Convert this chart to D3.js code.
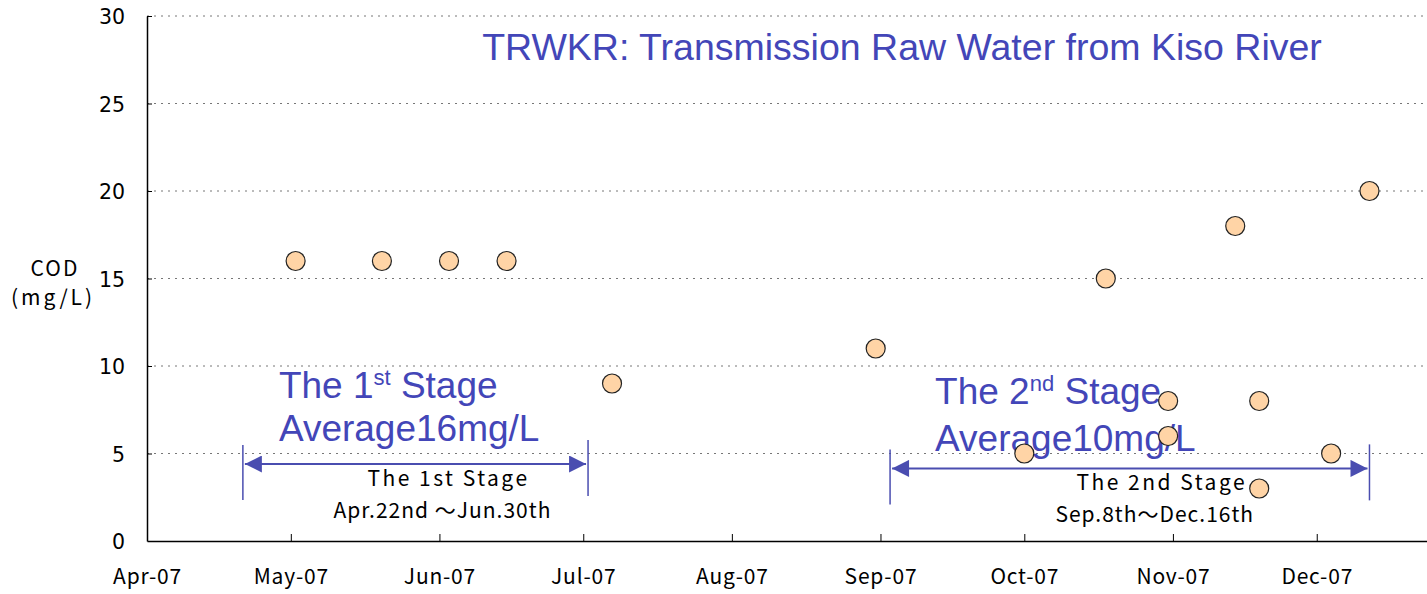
<!DOCTYPE html>
<html>
<head>
<meta charset="utf-8">
<script src="https://cdn.jsdelivr.net/npm/d3@7"></script>
<style>
  body { margin: 0; background: #fff; }
  .tick text { font-family: "Noto Sans CJK JP", sans-serif; fill: #000; }
</style>
</head>
<body>
<script>
// COD measurements (date, mg/L)
var sampleDates = ["2007-05-02", "2007-05-20", "2007-06-03", "2007-06-15", "2007-07-07",
                   "2007-08-31", "2007-10-01", "2007-10-18", "2007-10-31", "2007-10-31",
                   "2007-11-14", "2007-11-19", "2007-11-19", "2007-12-04", "2007-12-12"];
var codValues = [16, 16, 16, 16, 9, 11, 5, 15, 6, 8, 18, 3, 8, 5, 20];

var monthTicks = ["2007-04-01", "2007-05-01", "2007-06-01", "2007-07-01", "2007-08-01",
                  "2007-09-01", "2007-10-01", "2007-11-01", "2007-12-01"];
var yTicks = [0, 5, 10, 15, 20, 25, 30];

// stage annotations
var stageNames = ["The 1st Stage", "The 2nd Stage"];
var stageRanges = ["Apr.22nd \uFF5EJun.30th", "Sep.8th\uFF5EDec.16th"];
var stageStart = ["2007-04-21", "2007-09-03"];
var stageEnd = ["2007-07-02", "2007-12-12"];
var stageArrowY = [4.4, 4.15];
var stageAvg = ["Average16mg/L", "Average10mg/L"];
var stageOrd = ["1", "2"];
var stageSup = ["st", "nd"];

var parse = d3.timeParse("%Y-%m-%d");
var data = sampleDates.map(function(d, i) { return {date: parse(d), value: codValues[i]}; });

var W = 1427, H = 594;
var margin = {top: 16, right: 0, bottom: 53, left: 147};

var x = d3.scaleTime()
    .domain([parse("2007-04-01"), parse("2007-12-24")])
    .range([margin.left, W - margin.right]);
var y = d3.scaleLinear().domain([0, 30]).range([H - margin.bottom, margin.top]);

var svg = d3.select("body").append("svg")
    .attr("width", W)
    .attr("height", H);

var blue = "#4346b8";
var arrowBlue = "#4a4db0";

svg.append("defs").append("marker")
    .attr("id", "arr")
    .attr("viewBox", "0 0 10 10")
    .attr("refX", 10).attr("refY", 5)
    .attr("markerWidth", 10).attr("markerHeight", 8.5)
    .attr("markerUnits", "strokeWidth")
    .attr("orient", "auto-start-reverse")
    .append("path")
    .attr("d", "M0,0L10,5L0,10Z")
    .attr("fill", arrowBlue);

// gridlines
svg.append("g")
    .selectAll("line")
    .data(yTicks.filter(function(d) { return d > 0; }))
    .enter().append("line")
    .attr("x1", margin.left).attr("x2", W)
    .attr("y1", function(d) { return y(d); })
    .attr("y2", function(d) { return y(d); })
    .attr("stroke", "#777")
    .attr("stroke-width", 1)
    .attr("stroke-dasharray", "2,5");

// y axis
var yAxis = svg.append("g")
    .attr("transform", "translate(" + margin.left + ",0)")
    .call(d3.axisLeft(y).tickValues(yTicks).tickSizeInner(-5).tickSizeOuter(0).tickPadding(22));
yAxis.select(".domain").attr("stroke", "#000").attr("stroke-width", 1.5);
yAxis.selectAll(".tick line").attr("stroke", "#000");
yAxis.selectAll(".tick text")
    .style("font-family", "'DejaVu Sans', sans-serif")
    .style("font-size", "20.5px")
    .attr("dy", "0.38em");
yAxis.selectAll(".tick").filter(function(d) { return d === 0; }).select("line").remove();

// x axis
var xAxis = svg.append("g")
    .attr("transform", "translate(0," + y(0) + ")")
    .call(d3.axisBottom(x)
        .tickValues(monthTicks.map(parse))
        .tickFormat(d3.timeFormat("%b-%y"))
        .tickSizeInner(-7).tickSizeOuter(0).tickPadding(28));
xAxis.select(".domain").attr("stroke", "#000").attr("stroke-width", 1.5);
xAxis.selectAll(".tick line").attr("stroke", "#000");
xAxis.selectAll(".tick text").style("font-size", "21px").style("letter-spacing", "0.8px");

// y axis label
svg.append("text")
    .attr("x", 55).attr("y", 276)
    .attr("text-anchor", "middle")
    .style("font-family", "'Noto Sans CJK JP', sans-serif")
    .style("font-size", "21px")
    .style("letter-spacing", "2px")
    .text("COD");
svg.append("text")
    .attr("x", 53).attr("y", 305)
    .attr("text-anchor", "middle")
    .style("font-family", "'Noto Sans CJK JP', sans-serif")
    .style("font-size", "21px")
    .style("letter-spacing", "3px")
    .text("(mg/L)");

// title
svg.append("text")
    .attr("x", 902).attr("y", 60)
    .attr("text-anchor", "middle")
    .style("font-family", "Arial, 'Liberation Sans', sans-serif")
    .style("font-size", "37.5px")
    .attr("fill", blue)
    .text("TRWKR: Transmission Raw Water from Kiso River");

// stage arrows
var stages = stageNames.map(function(n, i) {
    return {name: n, range: stageRanges[i], s: parse(stageStart[i]), e: parse(stageEnd[i]),
            ay: stageArrowY[i], avg: stageAvg[i], ord: stageOrd[i], sup: stageSup[i]};
});

var sg = svg.append("g").selectAll("g").data(stages).enter().append("g");

sg.append("line")
    .attr("x1", function(d) { return x(d.s); }).attr("x2", function(d) { return x(d.s); })
    .attr("y1", function(d) { return y(d.ay) - 19; }).attr("y2", function(d) { return y(d.ay) + 36; })
    .attr("stroke", arrowBlue).attr("stroke-width", 1.5);
sg.append("line")
    .attr("x1", function(d) { return x(d.e); }).attr("x2", function(d) { return x(d.e); })
    .attr("y1", function(d) { return y(d.ay) - 24; }).attr("y2", function(d) { return y(d.ay) + 32; })
    .attr("stroke", arrowBlue).attr("stroke-width", 1.5);
sg.append("line")
    .attr("x1", function(d) { return x(d.s) + 2; }).attr("x2", function(d) { return x(d.e) - 2; })
    .attr("y1", function(d) { return y(d.ay); }).attr("y2", function(d) { return y(d.ay); })
    .attr("stroke", arrowBlue).attr("stroke-width", 2)
    .attr("marker-start", "url(#arr)")
    .attr("marker-end", "url(#arr)");

// data points
svg.append("g")
    .selectAll("circle")
    .data(data)
    .enter().append("circle")
    .attr("cx", function(d) { return x(d.date); })
    .attr("cy", function(d) { return y(d.value); })
    .attr("r", 9.5)
    .attr("fill", "#ffd4a6")
    .attr("stroke", "#222")
    .attr("stroke-width", 1.2);

// stage captions (black)
sg.append("text")
    .attr("x", function(d) { return (x(d.s) + x(d.e)) / 2 + (d.ord === "1" ? 33 : 32); })
    .attr("y", function(d) { return y(d.ay) + 22; })
    .attr("text-anchor", "middle")
    .style("font-family", "'Noto Sans CJK JP', sans-serif")
    .style("font-size", "21px")
    .style("letter-spacing", "2.5px")
    .text(function(d) { return d.name; });
sg.append("text")
    .attr("x", function(d) { return (x(d.s) + x(d.e)) / 2 + (d.ord === "1" ? 27 : 25); })
    .attr("y", function(d) { return y(d.ay) + 54; })
    .attr("text-anchor", "middle")
    .style("font-family", "'Noto Sans CJK JP', sans-serif")
    .style("font-size", "21px")
    .style("letter-spacing", "1px")
    .text(function(d) { return d.range; });

// stage averages (blue)
var bt = sg.append("text")
    .attr("x", function(d) { return x(d.s) + (d.ord === "1" ? 36 : 45); })
    .attr("y", function(d) { return y(d.ay) - (d.ord === "1" ? 66 : 64); })
    .style("font-family", "Arial, 'Liberation Sans', sans-serif")
    .style("font-size", "37px")
    .attr("fill", blue);
bt.append("tspan").text(function(d) { return "The " + d.ord; });
bt.append("tspan").attr("dy", -13).style("font-size", "22px").text(function(d) { return d.sup; });
bt.append("tspan").attr("dy", 13).text(" Stage");

sg.append("text")
    .attr("x", function(d) { return x(d.s) + (d.ord === "1" ? 36 : 45); })
    .attr("y", function(d) { return y(d.ay) - (d.ord === "1" ? 23 : 17); })
    .style("font-family", "Arial, 'Liberation Sans', sans-serif")
    .style("font-size", "37px")
    .attr("fill", blue)
    .text(function(d) { return d.avg; });
</script>
</body>
</html>
